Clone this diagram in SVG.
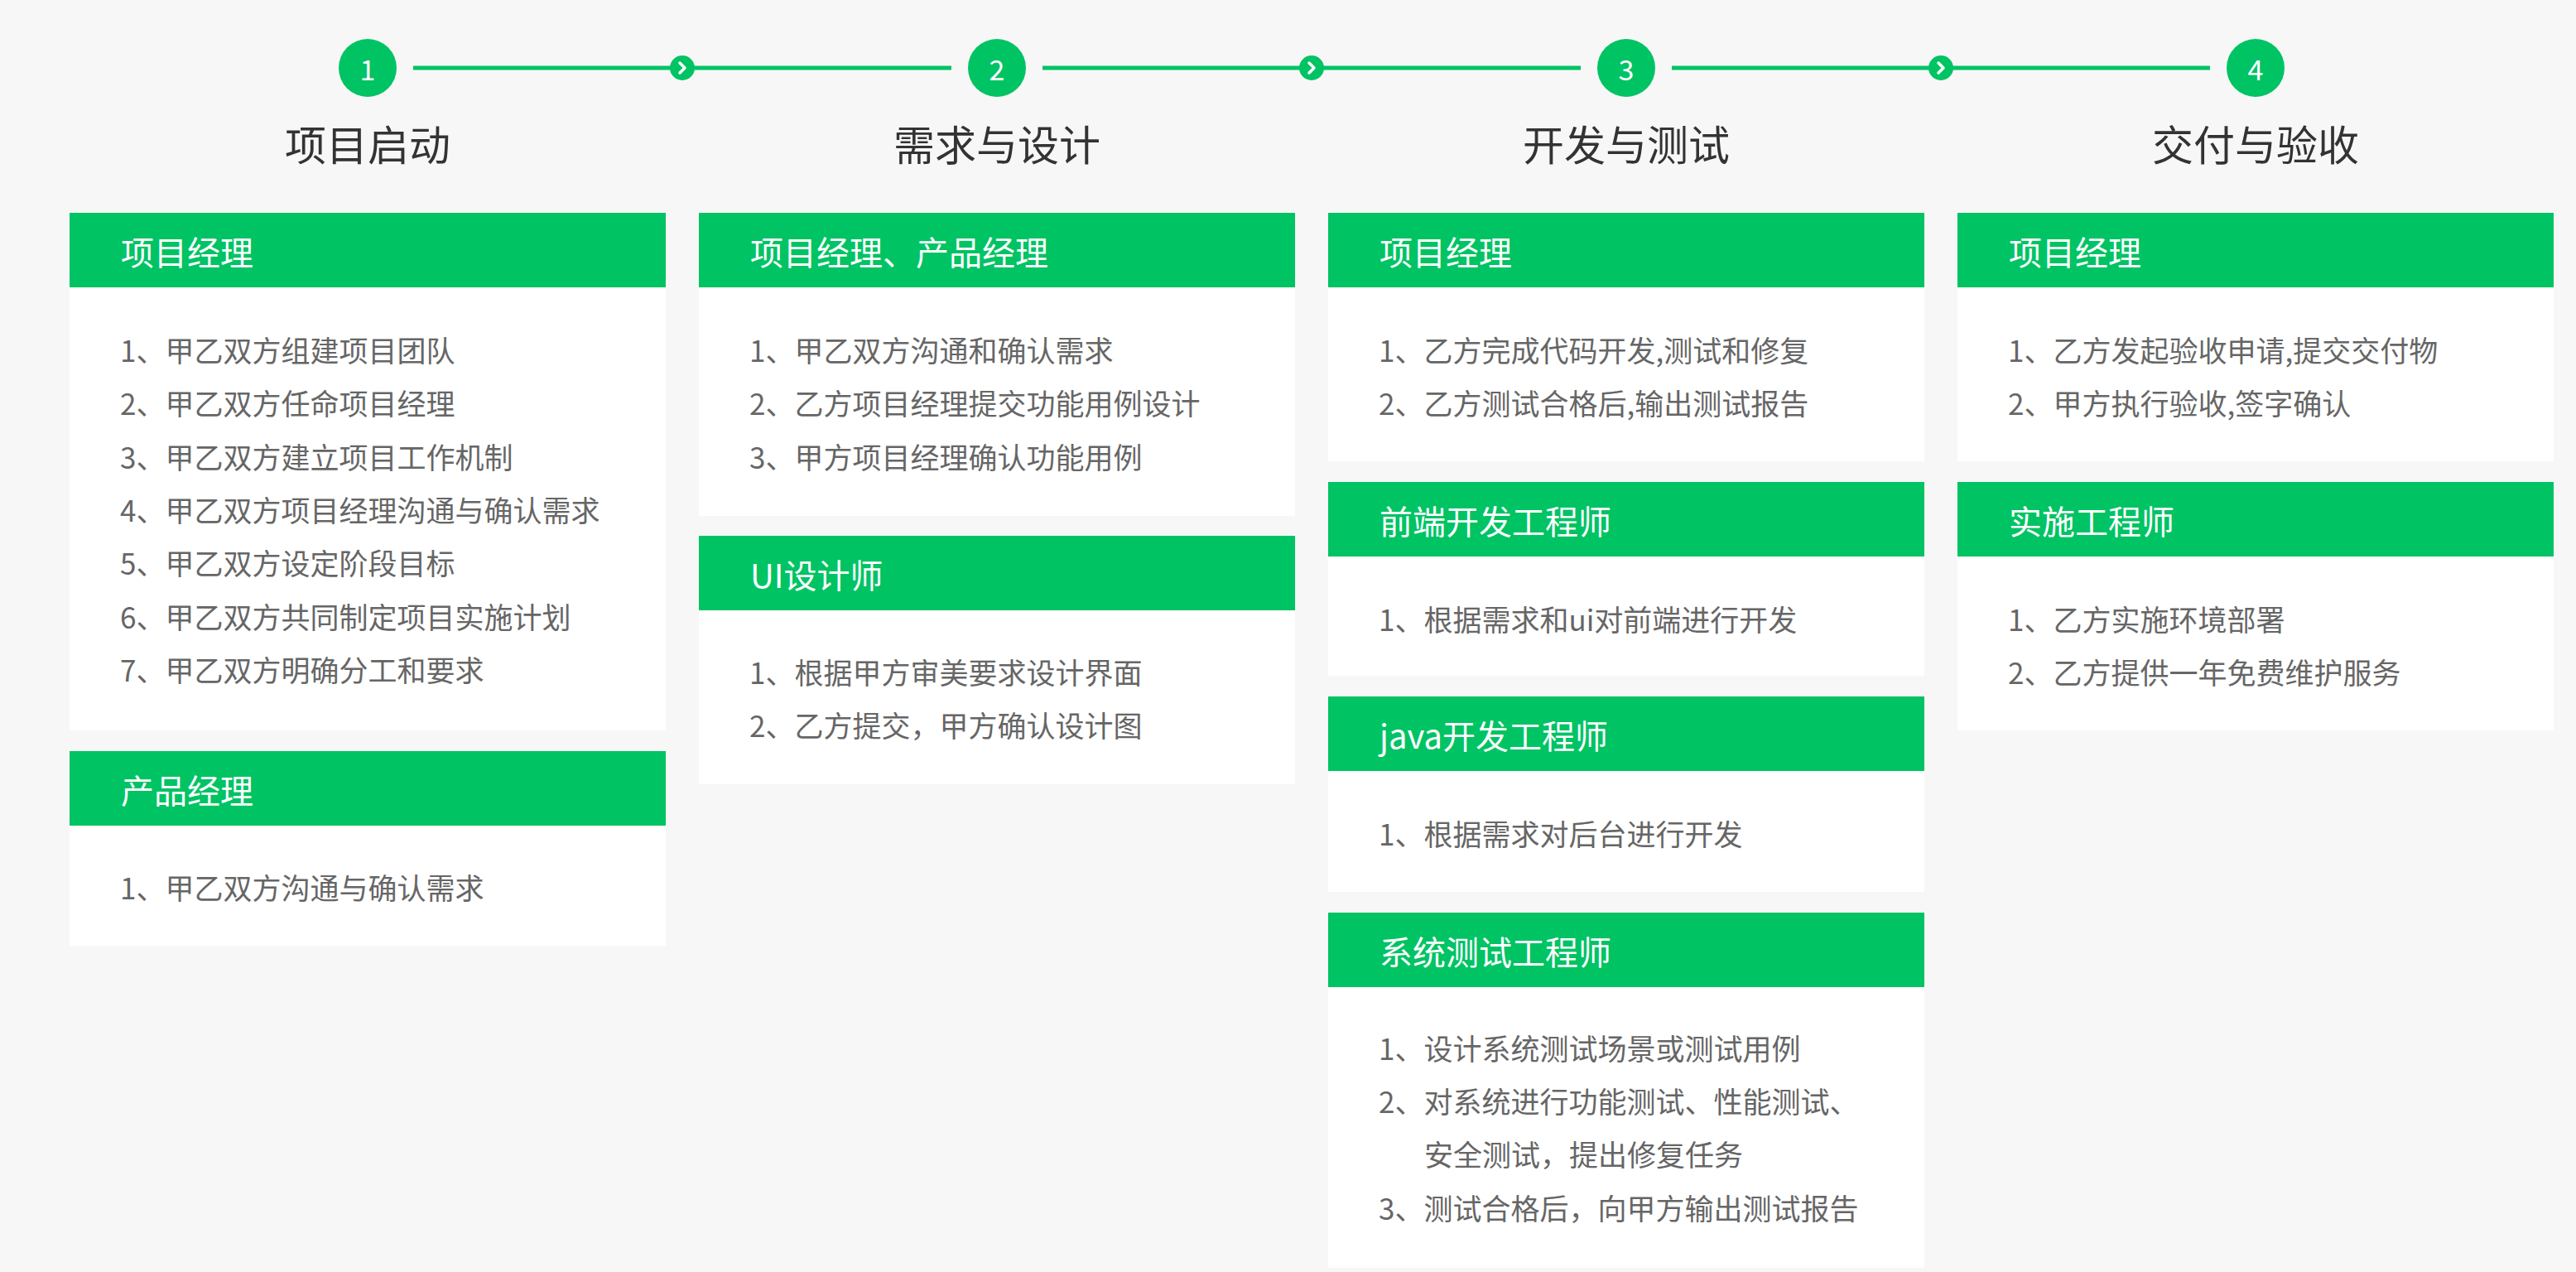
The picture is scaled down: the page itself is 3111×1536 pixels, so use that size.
<svg xmlns="http://www.w3.org/2000/svg" width="3111" height="1536" viewBox="0 0 3111 1536">
<style>
text{font-family:"Noto Sans CJK SC","Noto Sans",sans-serif;}
.num{fill:#fff;font-size:34px;text-anchor:middle;dominant-baseline:central;}
.title{fill:#333;font-size:50px;text-anchor:middle;dominant-baseline:central;}
.hd{fill:#00C364;}
.bd{fill:#fff;}
.ht{fill:#fff;font-size:40px;dominant-baseline:central;}
.bt{fill:#666;font-size:35px;dominant-baseline:central;}
.step{fill:#00C364;}
.line{stroke:#00C364;stroke-width:5;fill:none;}
.chev{stroke:#fff;stroke-width:3.5;fill:none;stroke-linecap:round;stroke-linejoin:round;}
</style>
<rect x="0" y="0" width="3111" height="1536" fill="#F7F7F7"/>

<g id="connectors">
<line class="line" x1="499" y1="82" x2="1149" y2="82"/>
<line class="line" x1="1259" y1="82" x2="1909" y2="82"/>
<line class="line" x1="2019" y1="82" x2="2669" y2="82"/>
<circle class="step" cx="824" cy="82" r="15"/>
<polyline class="chev" points="821,76 827,82 821,88"/>
<circle class="step" cx="1584" cy="82" r="15"/>
<polyline class="chev" points="1581,76 1587,82 1581,88"/>
<circle class="step" cx="2344" cy="82" r="15"/>
<polyline class="chev" points="2341,76 2347,82 2341,88"/>
</g>

<g id="step1"><circle class="step" cx="444" cy="82" r="35"/><text class="num" x="444" y="82">1</text><text class="title" x="444" y="172">项目启动</text></g>
<g id="step2"><circle class="step" cx="1204" cy="82" r="35"/><text class="num" x="1204" y="82">2</text><text class="title" x="1204" y="172">需求与设计</text></g>
<g id="step3"><circle class="step" cx="1964" cy="82" r="35"/><text class="num" x="1964" y="82">3</text><text class="title" x="1964" y="172">开发与测试</text></g>
<g id="step4"><circle class="step" cx="2724" cy="82" r="35"/><text class="num" x="2724" y="82">4</text><text class="title" x="2724" y="172">交付与验收</text></g>

<g id="c1a">
<rect class="bd" x="84" y="347" width="720" height="535"/>
<rect class="hd" x="84" y="257" width="720" height="90"/>
<text class="ht" x="146" y="303">项目经理</text>
<text class="bt" x="145" y="421">1、甲乙双方组建项目团队</text>
<text class="bt" x="145" y="485.5">2、甲乙双方任命项目经理</text>
<text class="bt" x="145" y="550">3、甲乙双方建立项目工作机制</text>
<text class="bt" x="145" y="614">4、甲乙双方项目经理沟通与确认需求</text>
<text class="bt" x="145" y="678.5">5、甲乙双方设定阶段目标</text>
<text class="bt" x="145" y="743">6、甲乙双方共同制定项目实施计划</text>
<text class="bt" x="145" y="807">7、甲乙双方明确分工和要求</text>
</g>
<g id="c1b">
<rect class="bd" x="84" y="997" width="720" height="145"/>
<rect class="hd" x="84" y="907" width="720" height="90"/>
<text class="ht" x="146" y="953">产品经理</text>
<text class="bt" x="145" y="1070">1、甲乙双方沟通与确认需求</text>
</g>

<g id="c2a">
<rect class="bd" x="844" y="347" width="720" height="276"/>
<rect class="hd" x="844" y="257" width="720" height="90"/>
<text class="ht" x="906" y="303">项目经理、产品经理</text>
<text class="bt" x="905" y="421">1、甲乙双方沟通和确认需求</text>
<text class="bt" x="905" y="485.5">2、乙方项目经理提交功能用例设计</text>
<text class="bt" x="905" y="550">3、甲方项目经理确认功能用例</text>
</g>
<g id="c2b">
<rect class="bd" x="844" y="737" width="720" height="210"/>
<rect class="hd" x="844" y="647" width="720" height="90"/>
<text class="ht" x="906" y="693">UI设计师</text>
<text class="bt" x="905" y="810">1、根据甲方审美要求设计界面</text>
<text class="bt" x="905" y="874">2、乙方提交，甲方确认设计图</text>
</g>

<g id="c3a">
<rect class="bd" x="1604" y="347" width="720" height="210"/>
<rect class="hd" x="1604" y="257" width="720" height="90"/>
<text class="ht" x="1666" y="303">项目经理</text>
<text class="bt" x="1665" y="421">1、乙方完成代码开发,测试和修复</text>
<text class="bt" x="1665" y="485.5">2、乙方测试合格后,输出测试报告</text>
</g>
<g id="c3b">
<rect class="bd" x="1604" y="672" width="720" height="144"/>
<rect class="hd" x="1604" y="582" width="720" height="90"/>
<text class="ht" x="1666" y="628">前端开发工程师</text>
<text class="bt" x="1665" y="746">1、根据需求和ui对前端进行开发</text>
</g>
<g id="c3c">
<rect class="bd" x="1604" y="931" width="720" height="146"/>
<rect class="hd" x="1604" y="841" width="720" height="90"/>
<text class="ht" x="1666" y="887">java开发工程师</text>
<text class="bt" x="1665" y="1005">1、根据需求对后台进行开发</text>
</g>
<g id="c3d">
<rect class="bd" x="1604" y="1192" width="720" height="339"/>
<rect class="hd" x="1604" y="1102" width="720" height="90"/>
<text class="ht" x="1666" y="1148">系统测试工程师</text>
<text class="bt" x="1665" y="1264">1、设计系统测试场景或测试用例</text>
<text class="bt" x="1665" y="1328">2、对系统进行功能测试、性能测试、</text>
<text class="bt" x="1720" y="1392">安全测试，提出修复任务</text>
<text class="bt" x="1665" y="1457">3、测试合格后，向甲方输出测试报告</text>
</g>

<g id="c4a">
<rect class="bd" x="2364" y="347" width="720" height="210"/>
<rect class="hd" x="2364" y="257" width="720" height="90"/>
<text class="ht" x="2426" y="303">项目经理</text>
<text class="bt" x="2425" y="421">1、乙方发起验收申请,提交交付物</text>
<text class="bt" x="2425" y="485.5">2、甲方执行验收,签字确认</text>
</g>
<g id="c4b">
<rect class="bd" x="2364" y="672" width="720" height="210"/>
<rect class="hd" x="2364" y="582" width="720" height="90"/>
<text class="ht" x="2426" y="628">实施工程师</text>
<text class="bt" x="2425" y="746">1、乙方实施环境部署</text>
<text class="bt" x="2425" y="810">2、乙方提供一年免费维护服务</text>
</g>
</svg>
